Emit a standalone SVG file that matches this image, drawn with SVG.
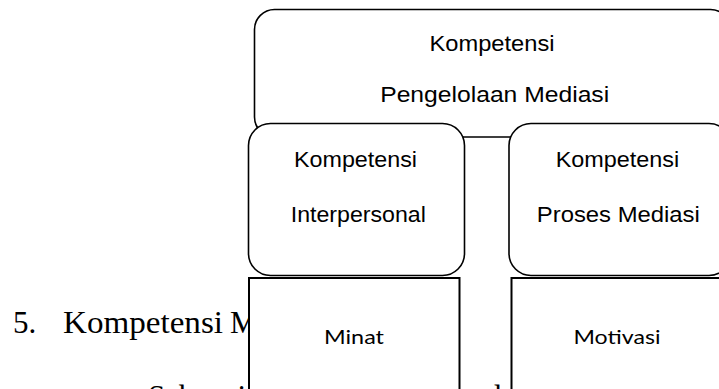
<svg xmlns="http://www.w3.org/2000/svg" width="719" height="389" viewBox="0 0 719 389">
<style>
.rb{fill:#fff;stroke:#000;stroke-width:1.6}
.sq{fill:#fff;stroke:#000;stroke-width:2}
.lab{font-family:"Liberation Sans",Arial,sans-serif;font-size:21.5px;fill:#000;text-anchor:middle}
.lab2{font-family:Lato,"Open Sans",sans-serif;font-size:19px;fill:#000;text-anchor:middle}
.body{font-family:"Liberation Serif","Times New Roman",serif;font-size:31px;fill:#000}
</style>
<rect width="719" height="389" fill="#fff"/>
<g id="bodytext">
<text class="body" x="13" y="333">5.</text>
<text class="body" x="63" y="333" textLength="160" lengthAdjust="spacingAndGlyphs">Kompetensi</text>
<text class="body" x="230" y="333">M</text>
<text class="body" x="148" y="407">Sebagai</text>
<text class="body" x="486" y="407">d</text>
</g>
<g id="connectors"></g>
<g id="node-top">
<rect class="rb" x="254.5" y="9.5" width="476" height="127.5" rx="20"/>
<text class="lab" x="492" y="50.5" textLength="125" lengthAdjust="spacingAndGlyphs">Kompetensi</text>
<text class="lab" x="494.7" y="101.5" textLength="229" lengthAdjust="spacingAndGlyphs">Pengelolaan Mediasi</text>
</g>
<g id="node-interpersonal">
<rect class="rb" x="248.5" y="123.5" width="216" height="152" rx="22"/>
<text class="lab" x="355.5" y="167" textLength="123" lengthAdjust="spacingAndGlyphs">Kompetensi</text>
<text class="lab" x="358.3" y="222" textLength="135" lengthAdjust="spacingAndGlyphs">Interpersonal</text>
</g>
<g id="node-proses">
<rect class="rb" x="509" y="123.5" width="222" height="152" rx="22"/>
<text class="lab" x="617.5" y="167" textLength="123.5" lengthAdjust="spacingAndGlyphs">Kompetensi</text>
<text class="lab" x="618.3" y="222" textLength="163" lengthAdjust="spacingAndGlyphs">Proses Mediasi</text>
</g>
<g id="node-minat">
<rect class="sq" x="249" y="278" width="210.5" height="130"/>
<text class="lab2" x="354" y="344" textLength="60" lengthAdjust="spacingAndGlyphs">Minat</text>
</g>
<g id="node-motivasi">
<rect class="sq" x="511.5" y="278" width="211" height="130"/>
<text class="lab2" x="617" y="344" textLength="87" lengthAdjust="spacingAndGlyphs">Motivasi</text>
</g>
</svg>
